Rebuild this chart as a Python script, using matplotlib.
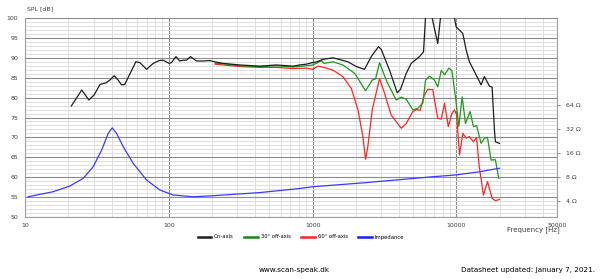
import matplotlib
matplotlib.use('Agg')
import matplotlib.pyplot as plt
from matplotlib.lines import Line2D
from matplotlib.ticker import FixedLocator, LogLocator, NullFormatter, NullLocator

# on-axis SPL
f_on = [21, 24.8, 27.8, 30.3, 33.2, 36.5, 38.9, 41.7, 44.4, 46.9, 49.4, 54.2, 59, 62.9, 70,
        77.9, 85.7, 91.3, 100.5, 104.4, 112, 119, 127, 132.7, 141.5, 155.7, 173, 192.6, 208.6,
        238, 311, 428, 559, 730, 813, 903, 1000, 1070, 1180, 1385, 1758, 2010, 2295, 2555,
        2870, 2998, 3425, 3873, 4083, 4475, 4845, 5535, 5900, 6155, 6494, 7410, 7900, 9330,
        9950, 11070, 11670, 12300, 13700, 14830, 15630, 16940, 17690, 18360, 18650, 19900]
spl_on = [77.9, 81.9, 79.4, 80.7, 83.3, 83.7, 84.4, 85.5, 84.4, 83.2, 83.3, 86.3, 89.0, 88.8, 87.1,
          88.6, 89.3, 89.4, 88.6, 88.8, 90.3, 89.2, 89.4, 89.4, 90.3, 89.2, 89.2, 89.3, 89.0,
          88.6, 88.2, 87.9, 88.2, 87.9, 88.2, 88.4, 88.8, 89.0, 89.6, 90.0, 89.0, 87.8, 87.1, 90.3,
          92.8, 92.1, 86.9, 81.2, 82.1, 86.1, 88.6, 90.3, 91.5, 103, 103, 93.6, 103, 103,
          97.8, 96.1, 92.0, 89.0, 85.7, 83.2, 85.3, 82.9, 82.6, 71.9, 68.9, 68.5]

# 30 deg off-axis
f_30 = [210, 240, 311, 428, 559, 730, 903, 1000, 1089, 1148, 1200, 1385, 1622, 1960, 2333,
        2596, 2738, 2918, 3280, 3810, 4128, 4475, 4975, 5385, 5835, 6100, 6494, 7030, 7410,
        7840, 8260, 8850, 9290, 9900, 10380, 10960, 11550, 12440, 13120, 13800, 14830, 15630,
        16430, 17400, 18650, 19680]
spl_30 = [88.6, 88.5, 88.0, 87.8, 88.0, 87.7, 88.0, 88.2, 88.8, 89.3, 88.6, 89.0, 88.2, 86.1, 81.7,
          84.4, 84.7, 88.8, 84.0, 79.4, 80.1, 79.6, 76.9, 77.3, 78.6, 84.4, 85.4, 84.4, 82.7,
          86.8, 85.7, 87.4, 86.8, 79.4, 72.7, 80.2, 73.5, 76.5, 72.7, 73.0, 68.5, 69.8,
          70.0, 64.3, 64.4, 59.7]

# 60 deg off-axis
f_60 = [210, 240, 311, 428, 559, 730, 903, 1000, 1089, 1200, 1385, 1622, 1858, 2067, 2235, 2333,
        2420, 2596, 2918, 3162, 3517, 4128, 4475, 4975, 5290, 5600, 5950, 6320, 6840, 7410,
        7840, 8260, 8780, 9290, 9680, 10010, 10500, 11070, 11670, 12300, 13120, 13800, 14400,
        15400, 16430, 17690, 18650, 19900]
spl_60 = [88.4, 88.2, 87.8, 87.6, 87.6, 87.3, 87.4, 87.1, 87.9, 87.6, 86.9, 85.3, 82.3, 76.9, 70.2, 64.5,
          67.7, 76.9, 84.8, 81.1, 75.6, 72.3, 73.5, 76.5, 77.0, 76.8, 80.5, 82.1, 82.0, 74.8,
          74.6, 78.6, 72.7, 76.0, 76.9, 75.8, 65.6, 71.0, 69.8, 70.2, 68.9, 70.0, 62.7,
          55.5, 58.9, 54.7, 54.1, 54.4]

# impedance
f_imp = [10.5, 15.7, 20.5, 25.4, 29.8, 34.1, 37.9, 40.4, 43.3, 48.2, 56.5, 70, 86.6, 107,
         132.7, 148, 204, 428, 813, 1000, 2350, 6840, 9950, 14400, 19900]
ohm = [4.52, 5.23, 6.17, 7.7, 10.78, 17.4, 28.2, 33.1, 28.2, 19.2, 11.87, 7.34, 5.5, 4.76,
       4.6, 4.52, 4.66, 5.1, 5.74, 6.04, 6.8, 8.06, 8.5, 9.3, 10.3]

x_ticks = [10, 100, 1000, 10000, 50000]
y_ticks = [50, 55, 60, 65, 70, 75, 80, 85, 90, 95, 100]
ohm_ticks = [4, 8, 16, 32, 64]

c_on, c_30, c_60, c_imp = '#1e1e1e', '#1a9a1a', '#ff2424', '#3a3aff'
lab = '#404040'

fig = plt.figure(figsize=(6, 2.79), dpi=100)
ax = fig.add_axes([25/600, 1-217/279, 532/600, 199/279])

ax.set_xscale('log')
ax.set_xlim(10, 50000)
ax.set_ylim(50, 100)
ax.xaxis.set_major_locator(FixedLocator(x_ticks))
ax.set_xticklabels([str(t) for t in x_ticks])
ax.xaxis.set_minor_locator(LogLocator(base=10, subs=range(2, 10)))
ax.xaxis.set_minor_formatter(NullFormatter())
ax.set_yticks(y_ticks)
ax.set_yticks(range(50, 101), minor=True)
ax.tick_params(which='both', length=0, labelsize=4.5, labelcolor=lab)
ax.tick_params(axis='x', pad=4)
ax.tick_params(axis='y', pad=5)
ax.grid(which='major', color='#8c8c8c', lw=0.8)
ax.grid(which='minor', color='#dedede', lw=0.7)
ax.set_axisbelow(True)
for s in ax.spines.values():
    s.set_color('#a0a0a0')
    s.set_linewidth(0.8)
ax.spines['top'].set_visible(False)

ax.plot(f_on, spl_on, color=c_on, lw=0.9, zorder=5)
ax.plot(f_30, spl_30, color=c_30, lw=0.9, zorder=4)
ax.plot(f_60, spl_60, color=c_60, lw=0.9, zorder=3)

ax2 = ax.twinx()
ax2.set_yscale('log')
ax2.set_ylim(2.52, 790)
ax2.yaxis.set_major_locator(FixedLocator(ohm_ticks))
ax2.yaxis.set_minor_locator(NullLocator())
ax2.set_yticklabels([f'{t} Ω' for t in ohm_ticks])
ax2.tick_params(axis='y', length=2.5, width=0.6, color='#808080', labelsize=4.5,
                labelcolor=lab, pad=4)
for s in ax2.spines.values():
    s.set_visible(False)
ax2.plot(f_imp, ohm, color=c_imp, lw=0.9)

fig.text(27/600, 1-9/279, 'SPL [dB]', fontsize=4.5, color=lab, va='center')
fig.text(560/600, 1-230/279, 'Frequency [Hz]', fontsize=5, color=lab, ha='right', va='center')

handles = [Line2D([], [], color=c, lw=1.8) for c in (c_on, '#138a13', c_60, '#1a1aff')]
fig.legend(handles, ['On-axis', '30° off-axis', '60° off-axis', 'Impedance'],
           loc='center', bbox_to_anchor=(301/600, 1-237/279), ncol=4, frameon=False,
           fontsize=3.8, handlelength=2.5, columnspacing=2, handletextpad=0.6)

fig.text(294/600, 1-270/279, 'www.scan-speak.dk', fontsize=5.2, ha='center', va='center')
fig.text(595/600, 1-270/279, 'Datasheet updated: January 7, 2021.', fontsize=5.2,
         ha='right', va='center')

fig.savefig('out.png', dpi=100)
